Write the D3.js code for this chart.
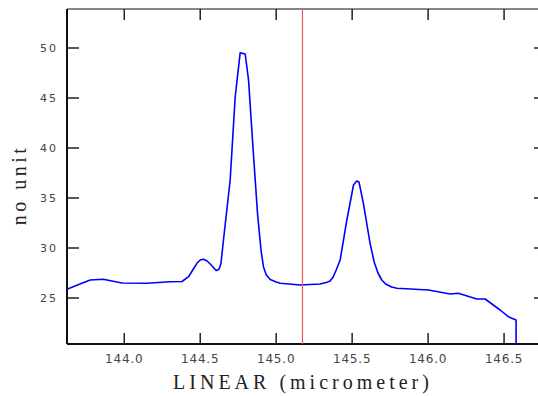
<!DOCTYPE html>
<html><head><meta charset="utf-8">
<script src="https://cdn.jsdelivr.net/npm/d3@7"></script>
<style>body{margin:0;background:#fff;overflow:hidden}</style>
</head><body><svg id="c" width="538" height="396"></svg>
<script>
const xValues = [143.623,143.700,143.776,143.862,143.985,144.149,144.303,144.380,144.423,144.455,144.478,144.500,144.522,144.545,144.566,144.605,144.622,144.636,144.653,144.697,144.730,144.763,144.796,144.818,144.847,144.877,144.900,144.916,144.935,144.961,145.000,145.026,145.158,145.289,145.330,145.355,145.375,145.395,145.421,145.465,145.509,145.530,145.545,145.574,145.618,145.645,145.670,145.695,145.720,145.760,145.794,146.002,146.145,146.199,146.320,146.375,146.474,146.528,146.579,146.579];
const yValues = [25.87,26.35,26.80,26.87,26.50,26.47,26.63,26.65,27.13,27.90,28.47,28.80,28.87,28.70,28.40,27.75,27.85,28.40,30.8,36.8,45.1,49.53,49.4,46.8,40.1,33.47,29.80,28.13,27.30,26.85,26.60,26.47,26.30,26.40,26.55,26.70,27.10,27.80,28.80,32.80,36.30,36.70,36.60,34.47,30.47,28.60,27.50,26.80,26.40,26.10,25.97,25.80,25.40,25.47,24.90,24.90,23.80,23.13,22.80,20.40];
const xTicks = [144.0,144.5,145.0,145.5,146.0,146.5];
const yTicks = [25,30,35,40,45,50];
const markerX = 145.173;
const xTitle = "LINEAR (micrometer)";
const yTitle = "no unit";

const svg = d3.select("#c");
const L=67, R=546, T=9, B=344;
const x = d3.scaleLinear().domain([143.623,146.776]).range([L,R]);
const y = d3.scaleLinear().domain([20.4,53.9]).range([B,T]);

svg.append("line").attr("x1",L).attr("x2",R).attr("y1",T).attr("y2",T).attr("stroke","#888").attr("stroke-width",2);
const g = svg.append("g");
xTicks.forEach(v=>{
  g.append("line").attr("x1",x(v)).attr("x2",x(v)).attr("y1",T).attr("y2",T+11).attr("stroke","#222").attr("stroke-width",1.5);
  g.append("line").attr("x1",x(v)).attr("x2",x(v)).attr("y1",B).attr("y2",B-11).attr("stroke","#222").attr("stroke-width",1.5);
  g.append("text").attr("x",x(v)).attr("y",B+19).attr("text-anchor","middle")
   .attr("font-family","DejaVu Sans").attr("font-size",12).attr("fill","#444").attr("letter-spacing",0.8)
   .text(d3.format(".1f")(v));
});
yTicks.forEach(v=>{
  g.append("line").attr("x1",L).attr("x2",L+12).attr("y1",y(v)).attr("y2",y(v)).attr("stroke","#222").attr("stroke-width",1.5);
  g.append("line").attr("x1",R).attr("x2",R-12).attr("y1",y(v)).attr("y2",y(v)).attr("stroke","#222").attr("stroke-width",1.5);
  g.append("text").attr("x",58).attr("y",y(v)+4).attr("text-anchor","end")
   .attr("font-family","DejaVu Sans").attr("font-size",11).attr("fill","#444").attr("letter-spacing",2)
   .text(d3.format("d")(v));
});
svg.append("line").attr("x1",L).attr("x2",L).attr("y1",T).attr("y2",B).attr("stroke","#111").attr("stroke-width",2);
svg.append("line").attr("x1",L).attr("x2",R).attr("y1",B).attr("y2",B).attr("stroke","#111").attr("stroke-width",2);

const pts = xValues.map((v,i)=>[v,yValues[i]]);
svg.append("path").datum(pts)
  .attr("d", d3.line().x(d=>x(d[0])).y(d=>y(d[1])))
  .attr("fill","none").attr("stroke","#0000ff").attr("stroke-width",1.6).attr("stroke-linejoin","round");

svg.append("line").attr("x1",x(markerX)).attr("x2",x(markerX)).attr("y1",T).attr("y2",B)
  .attr("stroke","#f25a5a").attr("stroke-width",1.2);

svg.append("text").attr("x",303).attr("y",389).attr("text-anchor","middle")
  .attr("font-family","Liberation Serif").attr("font-size",20).attr("fill","#222").attr("letter-spacing",4)
  .text(xTitle);
svg.append("text").attr("transform","translate(26,185) rotate(-90)").attr("text-anchor","middle")
  .attr("font-family","Liberation Serif").attr("font-size",20).attr("fill","#222").attr("letter-spacing",3.5)
  .text(yTitle);
</script></body></html>
